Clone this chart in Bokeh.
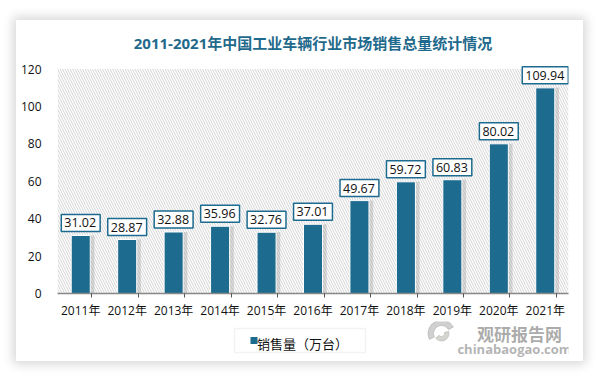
from bokeh.plotting import figure
from bokeh.layouts import column
from bokeh.models import (ColumnDataSource, Label, BoxAnnotation, FixedTicker,
                          Legend, LegendItem, Range1d, Title)
from bokeh.core.properties import value
from bokeh.transform import dodge
from bokeh.embed import file_html
from bokeh.resources import INLINE

years = ["2011年", "2012年", "2013年", "2014年", "2015年", "2016年",
         "2017年", "2018年", "2019年", "2020年", "2021年"]
sales = [31.02, 28.87, 32.88, 35.96, 32.76, 37.01, 49.67, 59.72, 60.83, 80.02, 109.94]
y_ticks = [0, 20, 40, 60, 80, 100, 120]
title_text = "2011-2021年中国工业车辆行业市场销售总量统计情况"
series_name = "销售量（万台）"

FONT = "Open Sans, Noto Sans CJK SC"
BAR = "#1d6b8f"
W = 567

idx = list(range(len(years)))
src = ColumnDataSource(dict(x=idx, y=sales, lab=[f"{v:.2f}" for v in sales]))

p = figure(width=W, height=301, output_backend="svg", toolbar_location=None,
           x_range=Range1d(-0.5, len(years) - 0.5), y_range=Range1d(0, 123.5),
           min_border_left=41, min_border_right=15, min_border_top=41, min_border_bottom=25)
p.outline_line_color = None
p.background_fill_color = "white"
p.border_fill_color = "white"
p.xgrid.visible = False
p.ygrid.visible = False

t = Title(text=title_text, align="center", text_font_size="15px", text_font=FONT,
          text_color="#1f6a8c", text_font_style="bold", standoff=20)
p.add_layout(t, "above")

p.add_layout(BoxAnnotation(top=y_ticks[-1], fill_alpha=0, line_alpha=0, hatch_pattern="\\",
                           hatch_color="#d4d4d4", hatch_scale=5, hatch_weight=1,
                           level="underlay"))

# bar shadow
p.vbar(x=dodge("x", 0.09), top="y", width=0.41, source=src,
       fill_color="#8a8a8a", fill_alpha=0.3, line_color=None)
r = p.vbar(x="x", top="y", width=0.41, source=src, fill_color=BAR,
           line_color="white", line_width=1)

p.text(x="x", y="y", text="lab", source=src, text_align="center",
       text_baseline="bottom", y_offset=-4, text_font_size="12.5px",
       text_font=value(FONT), text_color="#111111",
       background_fill_color="white", border_line_color=BAR,
       border_line_width=1.5, padding=[3, 4, 4, 4])

p.yaxis.ticker = FixedTicker(ticks=y_ticks)
p.yaxis.axis_line_color = None
p.yaxis.major_tick_line_color = None
p.yaxis.minor_tick_line_color = None
p.yaxis.major_label_text_font_size = "12px"
p.yaxis.major_label_text_font = FONT
p.yaxis.major_label_text_color = "#111111"
p.yaxis.major_label_standoff = 10

p.xaxis.ticker = FixedTicker(ticks=idx, minor_ticks=[i + 0.24 for i in idx])
p.xaxis.major_label_overrides = {i: y for i, y in zip(idx, years)}
p.xaxis.axis_line_color = "#888888"
p.xaxis.axis_line_width = 1.5
p.xaxis.major_tick_line_color = None
p.xaxis.minor_tick_line_color = "#555555"
p.xaxis.minor_tick_in = 0
p.xaxis.minor_tick_out = 4
p.xaxis.major_label_text_font_size = "12px"
p.xaxis.major_label_text_font = FONT
p.xaxis.major_label_text_color = "#111111"
p.xaxis.major_label_standoff = 2

# bottom strip: legend + watermark (its frame is aligned with the main frame)
H2 = 40
p2 = figure(width=W, height=H2, output_backend="svg", toolbar_location=None,
            x_range=Range1d(41, 552), y_range=Range1d(0, H2),
            x_axis_location=None, y_axis_location=None,
            min_border=0, min_border_left=0, min_border_right=0,
            min_border_top=0, min_border_bottom=0)
p2.grid.visible = False
p2.outline_line_color = None
p2.background_fill_color = "white"
p2.border_fill_color = "white"

# watermark
p2.annular_wedge(x=[425], y=[28], inner_radius=8, outer_radius=13.5,
                 start_angle=[0.5], end_angle=[3.6],
                 color="#b0b0b0", alpha=0.6)
p2.annular_wedge(x=[425], y=[28], inner_radius=3, outer_radius=7.5,
                 start_angle=[3.8], end_angle=[0.3],
                 color="#b8b8b0", alpha=0.6)
p2.add_layout(Label(x=503, y=28, text="观研报告网", text_align="center",
                    text_baseline="middle", text_font_size="17px",
                    text_font="Noto Sans CJK SC", text_font_style="bold",
                    text_color="#8f8f8f", text_alpha=0.75))
p2.add_layout(Label(x=498, y=13, text="chinabaogao.com", text_align="center",
                    text_baseline="middle", text_font_size="13px",
                    text_font="Open Sans", text_font_style="bold",
                    text_color="#9a9a9a", text_alpha=0.75))

p2.add_layout(BoxAnnotation(left=218, right=349, bottom=9, top=33,
                            fill_alpha=0, line_color="#d4d4d4", line_width=1.5,
                            level="underlay"))
dummy = p2.vbar(x=[], top=[], width=1, fill_color=BAR, line_color=None)
p2.scatter(x=[237.5], y=[21], marker="square", size=7, fill_color=BAR, line_color=None)
legend = Legend(items=[LegendItem(label=series_name, renderers=[dummy])],
                location=(189, 8), orientation="horizontal",
                label_text_font_size="13px", label_text_font=FONT,
                label_text_color="#111111", glyph_width=7, glyph_height=7,
                border_line_color=None, background_fill_alpha=0,
                padding=5, margin=0, label_standoff=4)
p2.add_layout(legend)

lay = column(p, p2, spacing=0)
lay.margin = (20, 15, 15, 16)
lay.styles = {"box-shadow": "0px 0px 10px 3px rgba(0,0,0,0.16)", "background": "white"}

open("out.html", "w").write(file_html(lay, INLINE))
